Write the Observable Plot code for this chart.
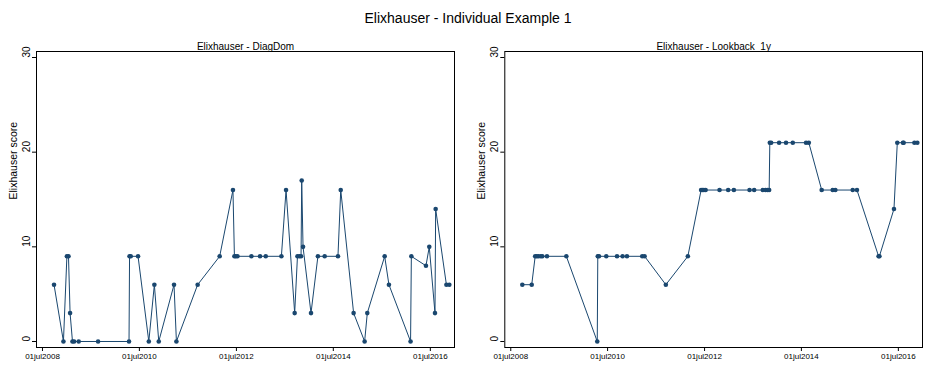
<!DOCTYPE html>
<html>
<head>
<meta charset="utf-8">
<script src="https://cdn.jsdelivr.net/npm/d3@7"></script>
<script src="https://cdn.jsdelivr.net/npm/@observablehq/plot@0.6"></script>
<style>
  html, body { margin: 0; padding: 0; background: #fff; }
  #wrap { position: relative; width: 936px; height: 365px; overflow: hidden; font-family: "Liberation Sans", Arial, sans-serif; background: #fff; }
  #wrap svg { position: absolute; top: 0; z-index: 1; }
  #title { position: absolute; left: 0; width: 936px; top: 10px; text-align: center; font-size: 14px; line-height: 16px; color: #000; z-index: 2; }
</style>
</head>
<body>
<div id="wrap"><div id="title">Elixhauser - Individual Example 1</div></div>
<script>
// Admission dates (shared by both panels)
const dates = [
  "2008-09-26","2008-12-06","2009-01-01","2009-01-13","2009-01-25","2009-02-12","2009-02-24","2009-03-31",
  "2009-08-24","2010-04-14","2010-04-18","2010-04-27","2010-06-21","2010-09-10","2010-10-22","2010-11-24",
  "2011-03-19","2011-04-06","2011-09-13","2012-02-26","2012-06-05","2012-06-16","2012-06-26","2012-07-09",
  "2012-10-22","2012-12-26","2013-02-07","2013-06-05","2013-07-10","2013-09-13","2013-10-04","2013-10-19",
  "2013-10-31","2013-11-05","2013-11-15","2014-01-14","2014-03-07","2014-04-27","2014-08-05","2014-08-26",
  "2014-12-01","2015-02-22","2015-03-14","2015-07-23","2015-08-24","2016-02-03","2016-02-09","2016-05-29",
  "2016-06-23","2016-08-05","2016-08-10","2016-10-30","2016-11-21"
];
// Elixhauser score - DiagDom
const diagDom = [6,0,9,9,3,0,0,0,0,0,9,9,9,0,6,0,6,0,6,9,16,9,9,9,9,9,9,9,16,3,9,9,9,17,10,3,9,9,9,16,3,0,3,9,6,0,9,8,10,3,14,6,6];
// Elixhauser score - Lookback_1y
const lookback1y = [6,6,9,9,9,9,9,9,9,0,9,9,9,9,9,9,9,9,6,9,16,16,16,16,16,16,16,16,16,16,16,16,16,21,21,21,21,21,21,21,16,16,16,16,16,9,9,14,21,21,21,21,21];

const panelTitles = ["Elixhauser - DiagDom", "Elixhauser - Lookback_1y"];
const yLabel = "Elixhauser score";
const yTicks = [0, 10, 20, 30];
const xTickDates = ["2008-07-01","2010-07-01","2012-07-01","2014-07-01","2016-07-01"];
const xTickLabels = ["01jul2008","01jul2010","01jul2012","01jul2014","01jul2016"];

const navy = "#1a476f";
const font = "Liberation Sans, Arial, sans-serif";
const xDomain = [new Date("2008-05-17"), new Date("2016-12-30")];
const yDomain = [-0.634, 30.634];

function panel(values, title, left, mLeft, mRight) {
  const data = dates.map((d, i) => ({date: new Date(d), v: values[i]}));
  const tickD = xTickDates.map(d => new Date(d));
  const svg = Plot.plot({
    width: 468,
    height: 365,
    marginLeft: mLeft,
    marginRight: mRight,
    marginTop: 51,
    marginBottom: 18,
    style: {fontFamily: font, background: "transparent", color: "#000"},
    x: {type: "utc", domain: xDomain},
    y: {domain: yDomain},
    marks: [
      Plot.frame({stroke: "#000", strokeWidth: 1}),
      Plot.axisY({ticks: yTicks, tickSize: 4, tickFormat: () => "", label: null, stroke: "#000"}),
      Plot.text(yTicks, {y: d => d, text: d => String(d), frameAnchor: "left", dx: -10, rotate: -90, fontSize: 10, fill: "#000"}),
      Plot.text([yLabel], {frameAnchor: "left", dx: -23, rotate: -90, fontSize: 10.5, fill: "#000"}),
      Plot.text([title], {frameAnchor: "top", dy: -9, fontSize: 10, fill: "#000"}),
      Plot.axisX({ticks: tickD, tickSize: 4, tickPadding: 2, tickFormat: (d) => xTickLabels[tickD.findIndex(t => +t === +d)], label: null, fontSize: 8, stroke: "#000"}),
      Plot.line(data, {x: "date", y: "v", stroke: navy, strokeWidth: 1}),
      Plot.dot(data, {x: "date", y: "v", r: 2.3, fill: navy, stroke: "none"})
    ]
  });
  svg.style.left = left + "px";
  document.getElementById("wrap").appendChild(svg);
}

panel(diagDom, panelTitles[0], 0, 36, 14);
panel(lookback1y, panelTitles[1], 468, 36.3, 14);
</script>
</body>
</html>
